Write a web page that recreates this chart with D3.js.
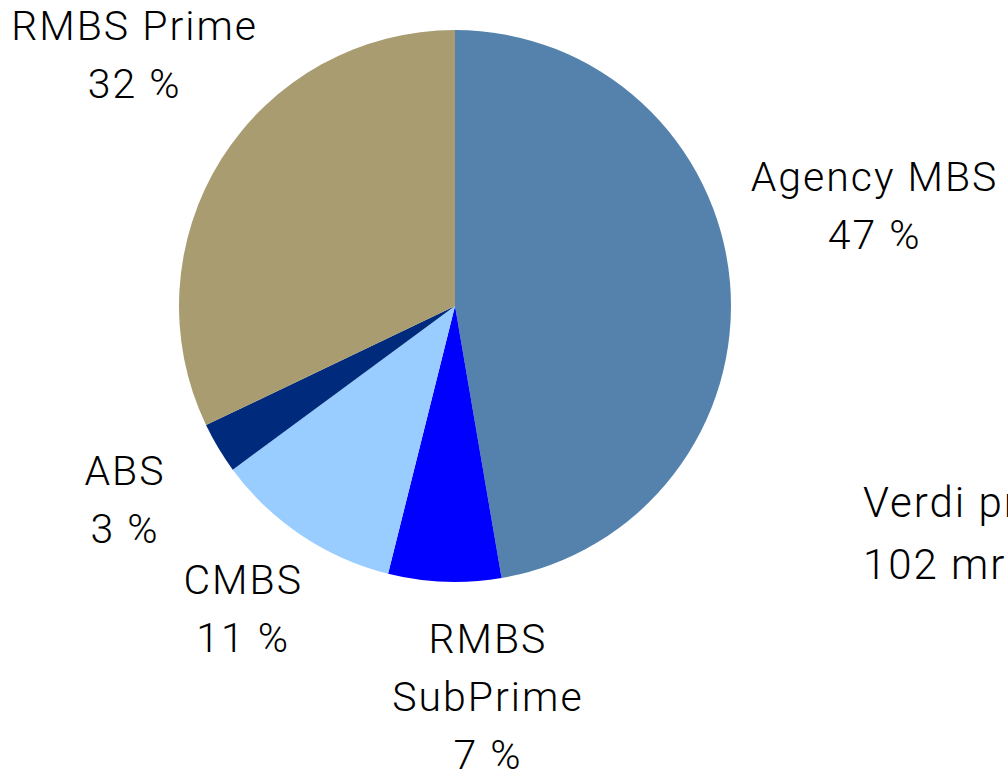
<!DOCTYPE html>
<html>
<head>
<meta charset="utf-8">
<script src="https://cdn.jsdelivr.net/npm/d3@7"></script>
<style>
  html, body { margin: 0; padding: 0; background: #fff; overflow: hidden; }
  svg text { font-family: Roboto, "Liberation Sans", sans-serif; font-weight: 300; fill: #000; }
</style>
</head>
<body>
<svg id="chart" width="1008" height="770"></svg>
<script>
// ---- data ----
const categories = ["Agency MBS", "RMBS SubPrime", "CMBS", "ABS", "RMBS Prime"];
const labelLines = [["Agency MBS"], ["RMBS", "SubPrime"], ["CMBS"], ["ABS"], ["RMBS Prime"]];
const shares = [47.3, 6.6, 11.0, 3.0, 32.1];
const colors = ["#5482AD", "#0000FF", "#99CCFF", "#002A7B", "#A89C70"];
const noteLines = ["Verdi pr.", "102 mrd"];

// ---- layout ----
const W = 1008, H = 770;
const cx = 455, cy = 306, R = 276;
const fontSize = 41, lineH = 58;
// nudges from label-arc centroid (Excel-like manual label placement)
const labelNudge = [[21, -67], [48, -9], [11, -30], [13, -12], [18, -38]];

const svg = d3.select("#chart");
const g = svg.append("g").attr("transform", `translate(${cx},${cy})`);

const pie = d3.pie().sort(null).value(d => d.value);
const arcs = pie(categories.map((c, i) => ({ name: c, value: shares[i], idx: i })));
const arc = d3.arc().innerRadius(0).outerRadius(R);
const labelArc = d3.arc().innerRadius(400).outerRadius(400);
const color = d3.scaleOrdinal().domain(categories).range(colors);

g.selectAll("path.slice")
  .data(arcs)
  .join("path")
  .attr("class", "slice")
  .attr("d", arc)
  .attr("fill", d => color(d.data.name));

const labels = g.selectAll("g.lbl")
  .data(arcs)
  .join("g")
  .attr("class", "lbl")
  .attr("transform", d => {
    const [x, y] = labelArc.centroid(d);
    const n = labelNudge[d.data.idx];
    return `translate(${x + n[0]},${y + n[1]})`;
  });

labels.each(function(d) {
  const lines = labelLines[d.data.idx].concat([d3.format(".0f")(d.data.value) + " %"]);
  const first = -(lines.length - 1) * lineH / 2 + fontSize * 0.355;
  const t = d3.select(this).append("text")
    .attr("text-anchor", "middle")
    .attr("font-size", fontSize)
    .style("letter-spacing", "2px");
  lines.forEach((ln, k) => {
    t.append("tspan").attr("x", 0).attr("y", first + k * lineH).text(ln);
  });
});

const note = svg.append("text")
  .attr("font-size", 42)
  .style("letter-spacing", "2px");
noteLines.forEach((ln, k) => {
  note.append("tspan").attr("x", 863).attr("y", 517 + k * 62).text(ln);
});
</script>
</body>
</html>
